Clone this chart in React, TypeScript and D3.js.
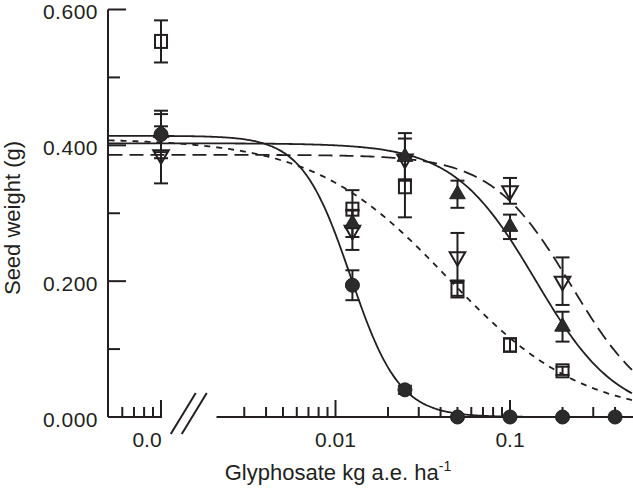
import React, { useEffect, useRef } from 'react';
import * as d3 from 'd3';

// glyphosate doses (kg a.e. / ha); control (0) is drawn on the left stub
const doses = [0, 0.0125, 0.025, 0.05, 0.1, 0.2, 0.4];

// seed weight means and error bars, per biotype
const circleMeans = [0.416, 0.194, 0.04, 0, 0, 0, 0];
const circleErrs = [0.035, 0.022, 0.006, 0, 0, 0, 0];
const triMeans = [0.418, 0.285, 0.383, 0.328, 0.28, 0.133];
const triErrs = [0.028, 0.02, 0.035, 0.02, 0.018, 0.022];
const downMeans = [0.386, 0.275, 0.38, 0.236, 0.333, 0.2];
const downErrs = [0.042, 0.029, 0.03, 0.035, 0.019, 0.035];
const squareMeans = [0.553, 0.306, 0.339, 0.188, 0.106, 0.068];
const squareErrs = [0.031, 0.028, 0.045, 0.012, 0.01, 0.006];

// log-logistic fits: [upper limit, slope, ED50]
const circleFit = [0.414, 3.12, 0.0122];
const triFit = [0.403, 1.85, 0.14];
const downFit = [0.386, 1.9, 0.225];
const squareFit = [0.41, 1.125, 0.0439];

// axes
const yMajor = [0, 0.2, 0.4, 0.6];
const yMajorLabels = ['0.000', '0.200', '0.400', '0.600'];
const yMinor = [0.1, 0.3, 0.5];
const xMajor = [0.001, 0.01, 0.1];
const xMajorLabels = ['0.0', '0.01', '0.1'];
const xMinorStub = [0.0006, 0.0007, 0.0008, 0.0009];
const xMinor = [0.003, 0.004, 0.005, 0.006, 0.007, 0.008, 0.009,
  0.02, 0.03, 0.04, 0.05, 0.06, 0.07, 0.08, 0.09, 0.2, 0.3, 0.4];
const controlDose = 0.001;
const breakStart = 0.00208;
const curveRange = [0.0005, 0.5];

const W = 633;
const H = 489;
const FONT = '"Liberation Sans", Arial, Helvetica, sans-serif';
const INK = '#231f20';

const App = () => {
  const ref = useRef<SVGSVGElement>(null);

  useEffect(() => {
    if (!ref.current) return;
    const svg = d3.select(ref.current);
    svg.selectAll('*').remove();

    const axisX = 108;
    const x = d3.scaleLog().domain([0.001, 0.1]).range([161, 510]);
    const y = d3.scaleLinear().domain([0, 0.6]).range([417, 9.5]);
    const px = (d: number) => x(d === 0 ? controlDose : d);

    // fitted curves
    const ll = (p: number[]) => (d: number) => p[0] / (1 + Math.pow(d / p[2], p[1]));
    const lo = Math.log10(curveRange[0]);
    const hi = Math.log10(curveRange[1]);
    const samples = d3.range(0, 301).map(i => Math.pow(10, lo + (hi - lo) * i / 300));
    const curve = (p: number[], dash: string | null) => {
      const f = ll(p);
      const line = d3.line<number>().x(d => x(d)).y(d => y(f(d))).curve(d3.curveMonotoneX);
      svg.append('path')
        .datum(samples)
        .attr('fill', 'none')
        .attr('stroke', INK)
        .attr('stroke-width', 1.8)
        .attr('stroke-dasharray', dash)
        .attr('d', line);
    };
    curve(circleFit, null);
    curve(triFit, null);
    curve(downFit, '14,7');
    curve(squareFit, '6,6');

    // axes
    const axis = svg.append('g').attr('stroke', INK).attr('stroke-width', 2);
    axis.append('line')
      .attr('x1', axisX).attr('x2', axisX)
      .attr('y1', y(0.6)).attr('y2', y(0));
    axis.append('line')
      .attr('x1', axisX).attr('x2', x(controlDose) + 1)
      .attr('y1', y(0)).attr('y2', y(0));
    axis.append('line')
      .attr('x1', x(breakStart)).attr('x2', W)
      .attr('y1', y(0)).attr('y2', y(0));
    yMajor.forEach(v => {
      axis.append('line').attr('x1', axisX).attr('x2', axisX + 18).attr('y1', y(v)).attr('y2', y(v));
    });
    yMinor.forEach(v => {
      axis.append('line').attr('x1', axisX).attr('x2', axisX + 12).attr('y1', y(v)).attr('y2', y(v));
    });
    xMajor.forEach(v => {
      axis.append('line').attr('x1', x(v)).attr('x2', x(v)).attr('y1', y(0)).attr('y2', y(0) - 17);
    });
    [...xMinorStub, ...xMinor].forEach(v => {
      axis.append('line').attr('x1', x(v)).attr('x2', x(v)).attr('y1', y(0)).attr('y2', y(0) - 10);
    });

    // axis break marks
    const bx = (x(controlDose) + x(breakStart)) / 2;
    [-5.5, 5.5].forEach(o => {
      axis.append('line')
        .attr('x1', bx + o - 12.5).attr('y1', y(0) + 17)
        .attr('x2', bx + o + 12.5).attr('y2', y(0) - 24);
    });

    // tick labels
    const labels = svg.append('g')
      .attr('font-family', FONT)
      .attr('font-size', 21)
      .attr('fill', INK);
    yMajor.forEach((v, i) => {
      labels.append('text')
        .attr('x', 98).attr('y', y(v) + 9.5)
        .attr('text-anchor', 'end')
        .attr('letter-spacing', 0.5)
        .text(yMajorLabels[i]);
    });
    xMajor.forEach((v, i) => {
      labels.append('text')
        .attr('x', i === 0 ? x(v) - 14 : x(v)).attr('y', y(0) + 30)
        .attr('text-anchor', 'middle')
        .text(xMajorLabels[i]);
    });

    // axis titles
    const xt = svg.append('text')
      .attr('x', 338).attr('y', 480)
      .attr('text-anchor', 'middle')
      .attr('font-family', FONT)
      .attr('font-size', 22)
      .attr('fill', INK);
    xt.append('tspan').text('Glyphosate kg a.e. ha');
    xt.append('tspan').attr('font-size', 14).attr('dy', -9).text('-1');
    svg.append('text')
      .attr('transform', `translate(20,218) rotate(-90)`)
      .attr('text-anchor', 'middle')
      .attr('font-family', FONT)
      .attr('font-size', 22)
      .attr('fill', INK)
      .text('Seed weight (g)');

    // error bars
    const errorBars = (means: number[], errs: number[]) => {
      const g = svg.append('g').attr('stroke', INK).attr('stroke-width', 2);
      means.forEach((m, i) => {
        const e = errs[i];
        if (!e) return;
        const cx = px(doses[i]);
        g.append('line').attr('x1', cx).attr('x2', cx).attr('y1', y(m - e)).attr('y2', y(m + e));
        [m - e, m + e].forEach(v => {
          g.append('line').attr('x1', cx - 7).attr('x2', cx + 7).attr('y1', y(v)).attr('y2', y(v));
        });
      });
    };
    errorBars(squareMeans, squareErrs);
    errorBars(downMeans, downErrs);
    errorBars(triMeans, triErrs);
    errorBars(circleMeans, circleErrs);

    // markers
    const tri = d3.symbol().type(d3.symbolTriangle).size(105);
    svg.append('g').selectAll('rect')
      .data(squareMeans)
      .join('rect')
      .attr('x', (d, i) => px(doses[i]) - 6)
      .attr('y', d => y(d) - 6.5)
      .attr('width', 12).attr('height', 13)
      .attr('fill', 'none').attr('stroke', INK).attr('stroke-width', 2);
    svg.append('g').selectAll('path')
      .data(downMeans)
      .join('path')
      .attr('d', tri)
      .attr('transform', (d, i) => `translate(${px(doses[i])},${y(d)}) rotate(180)`)
      .attr('fill', 'none').attr('stroke', INK).attr('stroke-width', 2);
    svg.append('g').selectAll('path')
      .data(triMeans)
      .join('path')
      .attr('d', tri)
      .attr('transform', (d, i) => `translate(${px(doses[i])},${y(d)})`)
      .attr('fill', '#2b2b2b').attr('stroke', INK).attr('stroke-width', 1);
    svg.append('g').selectAll('circle')
      .data(circleMeans)
      .join('circle')
      .attr('cx', (d, i) => px(doses[i]))
      .attr('cy', d => y(d))
      .attr('r', 7)
      .attr('fill', '#2b2b2b').attr('stroke', INK).attr('stroke-width', 1);
  }, []);

  return (
    <svg
      ref={ref}
      width={W}
      height={H}
      style={{ position: 'absolute', left: 0, top: 0, background: '#fff' }}
    />
  );
};

export default App;
